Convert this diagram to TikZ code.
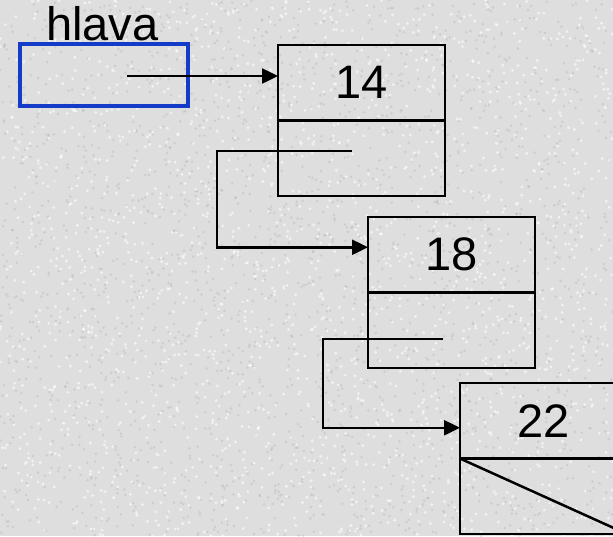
\documentclass[tikz,border=0pt]{standalone}
\usepackage{fontspec}
\setmainfont{Liberation Sans}
\usetikzlibrary{arrows.meta}
\definecolor{stone}{RGB}{222,222,222}
\definecolor{headblue}{RGB}{20,60,200}
\tikzset{
  cell/.style={draw, line width=2.5pt, minimum width=167pt, minimum height=75.5pt,
    inner sep=0pt, outer sep=0pt, anchor=north west,
    font=\fontsize{47}{47}\selectfont},
  headbox/.style={draw=headblue, line width=3.4pt, minimum width=168pt, minimum height=62pt,
    inner sep=0pt, outer sep=0pt, anchor=north west},
  link/.style={line width=2.5pt, -{Triangle[length=16pt,width=15pt]}},
  tail/.style={line width=2.5pt}
}
\begin{document}
\begin{tikzpicture}[x=1pt,y=-1pt]
  % granite-like backdrop
  \useasboundingbox (0,0) rectangle (613,536);
  \clip (0,0) rectangle (613,536);
  \fill[stone] (0,0) rectangle (613,536);
  \pgfmathsetseed{7}
  \foreach \i in {1,...,2200} {
    \pgfmathsetmacro{\px}{rnd*613}\pgfmathsetmacro{\py}{rnd*536}
    \fill[gray!70, opacity=0.3] (\px,\py) circle (1.4pt);
  }
  \foreach \i in {1,...,2000} {
    \pgfmathsetmacro{\px}{rnd*613}\pgfmathsetmacro{\py}{rnd*536}
    \fill[white, opacity=0.6] (\px,\py) circle (1.6pt);
  }

  % head pointer
  \node[anchor=base west, inner sep=0pt, font=\fontsize{47}{47}\selectfont] (lbl) at (46,40) {hlava};
  \node[headbox] (head) at (20,44) {};
  \coordinate (h0) at (127,76);

  % list elements: value cell above, next cell below
  \node[cell] (n1top) at (278,45) {14};
  \node[cell] (n1bot) at (278,120.5) {};
  \node[cell] (n2top) at (368,217) {18};
  \node[cell] (n2bot) at (368,292.5) {};
  \node[cell] (n3top) at (460,383) {22};
  \node[cell] (n3bot) at (460,458.5) {};

  % null pointer in the last element
  \draw[tail] (n3bot.north west) -- (n3bot.south east);

  % pointers
  \coordinate (p1) at (352,151);
  \coordinate (p2) at (443,339);
  \draw[link] (h0) -- (h0 -| n1top.west);
  \draw[link] (p1) -- ++(-135,0) |- ([yshift=7.5pt]n2top.west);
  \draw[link] (p2) -- ++(-120,0) |- ([yshift=-7pt]n3top.west);
\end{tikzpicture}
\end{document}
